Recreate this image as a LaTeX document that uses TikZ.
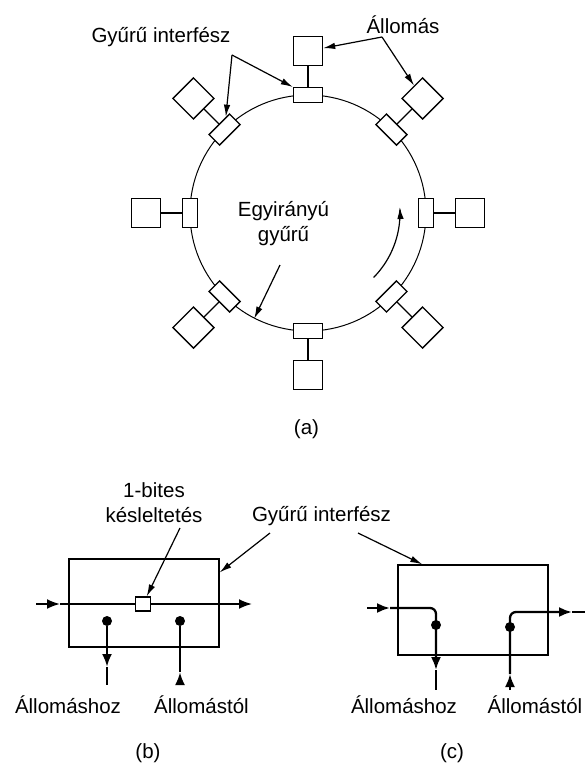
\documentclass[tikz,border=0pt]{standalone}
\usepackage{fontspec}
\setmainfont{Liberation Sans}
\usetikzlibrary{arrows.meta,calc}
\begin{document}
\begin{tikzpicture}[x=1pt,y=-1pt,
  lbl/.style={font=\fontsize{20.5}{25}\selectfont, inner sep=0pt},
  iface/.style={draw, fill=white, line width=1.4pt, minimum width=29pt, minimum height=15pt, inner sep=0pt},
  station/.style={draw, fill=white, line width=1.4pt, minimum size=29pt, inner sep=0pt},
  link/.style={line width=1.4pt},
  pointer/.style={line width=1.2pt, -{Latex[length=12pt,width=6.5pt]}},
  wiretip/.style={-{Latex[length=13pt,width=10pt]}},
  hwire/.style={line width=1.9pt},
  vwire/.style={line width=2.6pt},
  cwire/.style={line width=2.3pt, rounded corners=6pt},
  dot/.style={circle, fill, inner sep=0pt, minimum size=10pt},
  panel/.style={draw, line width=1.4pt, inner sep=0pt}]
\useasboundingbox (0,0) rectangle (585,764);

% ---------- (a) ring ----------
\node[circle, draw, line width=1pt, minimum size=236pt, inner sep=0pt] (ring) at (308,213) {};
\foreach \a in {0,45,...,315} {
  \node[iface, rotate=\a-90] (i\a) at ({308+118*cos(\a)},{213-118*sin(\a)}) {};
  \node[station, rotate=\a] (s\a) at ({308+162*cos(\a)},{213-162*sin(\a)}) {};
  \draw[link] (i\a) -- (s\a);
}

\node[lbl, anchor=base] (gyi) at (161,42) {Gyűrű interfész};
\coordinate (gyia) at (232,55);
\draw[pointer] (gyia) -- (i135);
\draw[pointer] (gyia) -- (i90);

\node[lbl, anchor=base] (all) at (403,33) {Állomás};
\coordinate (alla) at (382,37);
\draw[pointer] (alla) -- (s90);
\draw[pointer] (alla) -- (s45);

\node[lbl, align=center] (egy) at (283.5,224) {Egyirányú\\gyűrű};
\coordinate (egya) at (280,265);
\draw[pointer] (egya) -- (ring.243);

\draw[pointer] plot[domain=-44.5:3.7, samples=30, smooth] ({308+92*cos(\x)},{213-92*sin(\x)});

\node[lbl, anchor=base] (lbla) at (306.5,434) {(a)};

% ---------- (b) ----------
\node[panel, minimum width=150pt, minimum height=88pt] (bbox) at (144,603) {};
\node[draw, fill=white, line width=1.2pt, minimum width=15pt, minimum height=14pt, inner sep=0pt] (delay) at (143,604) {};
\coordinate (bin) at (36,604);
\coordinate (binm) at (60,604);
\coordinate (bout) at (252,604);
\draw[hwire, wiretip] (bin) -- (binm);
\draw[hwire] (binm) -- (delay);
\draw[hwire, wiretip] (delay) -- (bout);

\node[dot] (bd1) at (107,621) {};
\coordinate (bd1m) at (107,667);
\coordinate (bd1e) at (107,685);
\draw[vwire, wiretip] (bd1) -- (bd1m);
\draw[vwire] (bd1m) -- (bd1e);

\node[dot] (bd2) at (180,621) {};
\coordinate (bd2e) at (180,685);
\coordinate (bd2m) at (180,672);
\draw[vwire, wiretip] (bd2e) -- (bd2m);
\draw[vwire] (bd2m) -- (bd2);

\node[lbl, align=center] (dlbl) at (154,502.5) {1-bites\\késleltetés};
\coordinate (dla) at (180,528);
\draw[pointer] (dla) -- (delay);

\node[lbl, anchor=base] (bto) at (68,713) {Állomáshoz};
\node[lbl, anchor=base] (bfrom) at (201.5,713) {Állomástól};
\node[lbl, anchor=base] (lblb) at (148,758) {(b)};

% ---------- (c) ----------
\node[panel, minimum width=150pt, minimum height=90pt] (cbox) at (473,610) {};

\node[lbl, anchor=base] (gyi2) at (321.5,521) {Gyűrű interfész};
\coordinate (gyb) at (270,533);
\coordinate (gyc) at (358,533);
\draw[pointer] (gyb) -- (bbox.22);
\draw[pointer] (gyc) -- (cbox.138);

\coordinate (cin) at (367,608);
\coordinate (cinm) at (390,608);
\coordinate (cc1) at (436,608);
\coordinate (cdm) at (436,670);
\coordinate (cde) at (436,690);
\draw[cwire, wiretip] (cin) -- (cinm);
\draw[cwire, wiretip] (cinm) -- (cc1) -- (cdm);
\draw[cwire] (cdm) -- (cde);
\node[dot] (cd1) at (436,625) {};

\coordinate (cup) at (510,690);
\coordinate (cupm) at (510,674);
\coordinate (cc2) at (510,612);
\coordinate (com) at (572,612);
\coordinate (cout) at (585,612);
\draw[cwire, wiretip] (cup) -- (cupm);
\draw[cwire, wiretip] (cupm) -- (cc2) -- (com);
\draw[cwire] (com) -- (cout);
\node[dot] (cd2) at (510,627) {};

\node[lbl, anchor=base] (cto) at (404,713) {Állomáshoz};
\node[lbl, anchor=base] (cfrom) at (535,713) {Állomástól};
\node[lbl, anchor=base] (lblc) at (452,758) {(c)};
\end{tikzpicture}
\end{document}
